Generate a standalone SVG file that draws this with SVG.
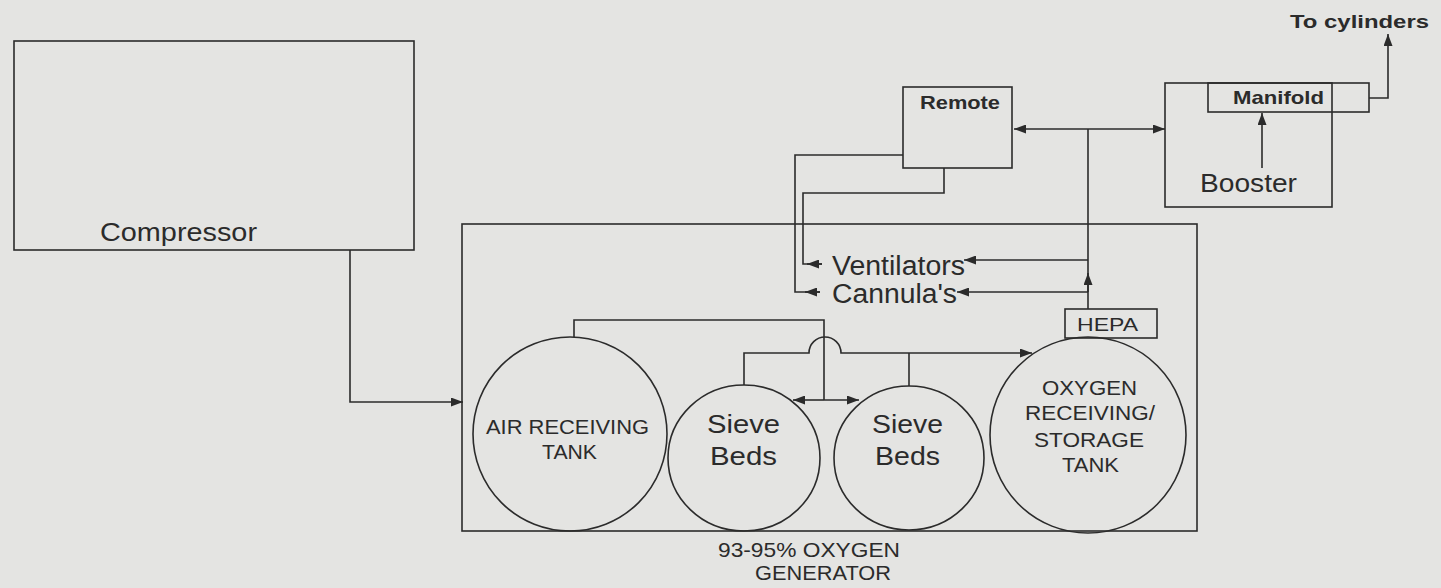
<svg xmlns="http://www.w3.org/2000/svg" width="1441" height="588" viewBox="0 0 1441 588">
<defs>
<style>
.bx{fill:none;stroke:#2b2b2b;stroke-width:1.6}
.ln{fill:none;stroke:#2b2b2b;stroke-width:1.6}
.t{font-family:"Liberation Sans",Arial,sans-serif;fill:#2b2b2b}
.b{font-weight:bold}
</style>
<marker id="ah" markerUnits="userSpaceOnUse" markerWidth="13" markerHeight="9" refX="12" refY="4.5" orient="auto">
<path d="M0,0 L12,4.5 L0,9 z" fill="#2b2b2b"/>
</marker>
</defs>
<rect width="1441" height="588" fill="#e4e4e2"/>

<g id="compressor">
<rect class="bx" x="14" y="41" width="400" height="209"/>
<text class="t" x="100" y="241" font-size="25" textLength="157" lengthAdjust="spacingAndGlyphs">Compressor</text>
</g>

<g id="generator">
<rect class="bx" x="462" y="224" width="735" height="307"/>
<text class="t" x="718" y="557" font-size="21" textLength="182" lengthAdjust="spacingAndGlyphs">93-95% OXYGEN</text>
<text class="t" x="755" y="580" font-size="21" textLength="136" lengthAdjust="spacingAndGlyphs">GENERATOR</text>
</g>

<g id="air-tank">
<circle class="bx" cx="570" cy="434" r="97"/>
<text class="t" x="486" y="434" font-size="20" textLength="163" lengthAdjust="spacingAndGlyphs">AIR RECEIVING</text>
<text class="t" x="542" y="459" font-size="20" textLength="55" lengthAdjust="spacingAndGlyphs">TANK</text>
</g>

<g id="sieve-1">
<ellipse class="bx" cx="744" cy="458" rx="76" ry="73"/>
<text class="t" x="707" y="433" font-size="25" textLength="73" lengthAdjust="spacingAndGlyphs">Sieve</text>
<text class="t" x="710" y="465" font-size="25" textLength="67" lengthAdjust="spacingAndGlyphs">Beds</text>
</g>

<g id="sieve-2">
<ellipse class="bx" cx="909" cy="458" rx="75" ry="72"/>
<text class="t" x="872" y="433" font-size="25" textLength="71" lengthAdjust="spacingAndGlyphs">Sieve</text>
<text class="t" x="875" y="465" font-size="25" textLength="65" lengthAdjust="spacingAndGlyphs">Beds</text>
</g>

<g id="oxygen-tank">
<circle class="bx" cx="1088" cy="435" r="98"/>
<text class="t" x="1042" y="395" font-size="20" textLength="95" lengthAdjust="spacingAndGlyphs">OXYGEN</text>
<text class="t" x="1025" y="420" font-size="20" textLength="130" lengthAdjust="spacingAndGlyphs">RECEIVING/</text>
<text class="t" x="1034" y="447" font-size="20" textLength="110" lengthAdjust="spacingAndGlyphs">STORAGE</text>
<text class="t" x="1062" y="472" font-size="20" textLength="57" lengthAdjust="spacingAndGlyphs">TANK</text>
</g>

<g id="hepa">
<rect class="bx" x="1065" y="309" width="92" height="29"/>
<text class="t" x="1077" y="331" font-size="19" textLength="61" lengthAdjust="spacingAndGlyphs">HEPA</text>
</g>

<g id="remote">
<rect class="bx" x="903" y="87" width="109" height="81"/>
<text class="t b" x="920" y="109" font-size="19" textLength="80" lengthAdjust="spacingAndGlyphs">Remote</text>
</g>

<g id="booster">
<rect class="bx" x="1165" y="83" width="167" height="124"/>
<text class="t" x="1200" y="192" font-size="26" textLength="97" lengthAdjust="spacingAndGlyphs">Booster</text>
</g>

<g id="manifold">
<rect class="bx" x="1208" y="83" width="161" height="29"/>
<text class="t b" x="1233" y="104" font-size="19" textLength="91" lengthAdjust="spacingAndGlyphs">Manifold</text>
</g>

<g id="ventilators">
<text class="t" x="832" y="275" font-size="27" textLength="133" lengthAdjust="spacingAndGlyphs">Ventilators</text>
</g>
<g id="cannulas">
<text class="t" x="832" y="303" font-size="27" textLength="125" lengthAdjust="spacingAndGlyphs">Cannula's</text>
</g>
<g id="to-cylinders">
<text class="t b" x="1290" y="28" font-size="18" textLength="139" lengthAdjust="spacingAndGlyphs">To cylinders</text>
</g>

<g id="connectors">
<path class="ln" d="M350,250 V402 H463" marker-end="url(#ah)"/>
<path class="ln" d="M574,337 V320 H824 V400"/>
<path class="ln" d="M824,400 H793" marker-end="url(#ah)"/>
<path class="ln" d="M824,400 H859" marker-end="url(#ah)"/>
<path class="ln" d="M744,385 V353 H809 A16,16 0 0 1 841,353 H1032" marker-end="url(#ah)"/>
<path class="ln" d="M909,386 V353"/>
<path class="ln" d="M1088,309 V129"/>
<path class="ln" d="M1088,292 V273" marker-end="url(#ah)"/>
<path class="ln" d="M1088,129 H1014" marker-end="url(#ah)"/>
<path class="ln" d="M1088,129 H1165" marker-end="url(#ah)"/>
<path class="ln" d="M1088,260 H964" marker-end="url(#ah)"/>
<path class="ln" d="M1088,292 H957" marker-end="url(#ah)"/>
<path class="ln" d="M903,155 H795 V292 H820"/>
<path class="ln" d="M820,292 H805" marker-end="url(#ah)"/>
<path class="ln" d="M944,168 V193 H803 V264 H822"/>
<path class="ln" d="M822,264 H807" marker-end="url(#ah)"/>
<path class="ln" d="M1262,168 V113" marker-end="url(#ah)"/>
<path class="ln" d="M1369,98 H1388 V34" marker-end="url(#ah)"/>
</g>
</svg>
